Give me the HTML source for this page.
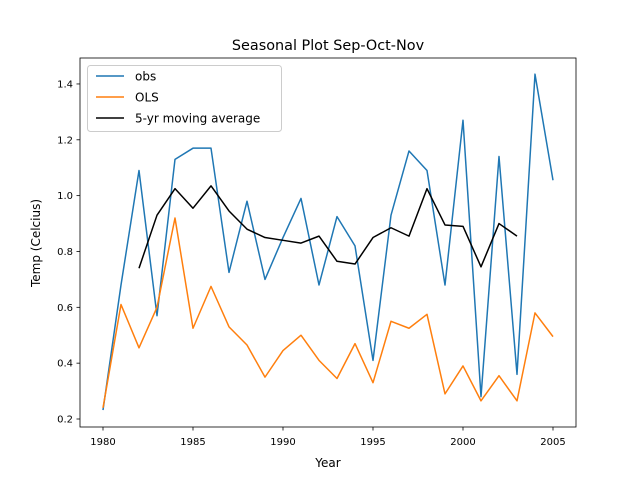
<!DOCTYPE html>
<html><head><meta charset="utf-8"><style>
body{margin:0;background:#fff}
svg{display:block;font-family:"DejaVu Sans","Liberation Sans",sans-serif}
</style></head><body>
<svg id="chart" width="640" height="480">
<rect width="640" height="480" fill="#fff"/>
<text x="328" y="50" text-anchor="middle" font-size="14.4">Seasonal Plot Sep-Oct-Nov</text>
<g id="plot"></g>
<text x="328" y="467" text-anchor="middle" font-size="12">Year</text>
<text transform="translate(40,243) rotate(-90)" text-anchor="middle" font-size="12">Temp (Celcius)</text>
<g>
<rect x="87.5" y="65.5" width="194" height="66" fill="#fff" fill-opacity="0.8" stroke="#ccc" rx="3"/>
<line x1="96" y1="76" x2="124" y2="76" stroke="#1f77b4" stroke-width="1.5"/>
<text x="135" y="80.5" font-size="12">obs</text>
<line x1="96" y1="97" x2="124" y2="97" stroke="#ff7f0e" stroke-width="1.5"/>
<text x="135" y="101.5" font-size="12">OLS</text>
<line x1="96" y1="118" x2="124" y2="118" stroke="#000" stroke-width="1.5"/>
<text x="135" y="122.5" font-size="12">5-yr moving average</text>
</g>
</svg>
<script>
const years=[1980,1981,1982,1983,1984,1985,1986,1987,1988,1989,1990,1991,1992,1993,1994,1995,1996,1997,1998,1999,2000,2001,2002,2003,2004,2005];
const obs=[0.232,0.68,1.09,0.57,1.13,1.17,1.17,0.725,0.98,0.70,0.85,0.99,0.68,0.925,0.82,0.41,0.93,1.16,1.09,0.68,1.27,0.28,1.14,0.36,1.435,1.055];
const ols=[0.24,0.61,0.455,0.60,0.92,0.525,0.675,0.53,0.465,0.35,0.445,0.50,0.41,0.345,0.47,0.33,0.55,0.525,0.575,0.29,0.39,0.265,0.355,0.265,0.58,0.495];
const maYears=[1982,1983,1984,1985,1986,1987,1988,1989,1990,1991,1992,1993,1994,1995,1996,1997,1998,1999,2000,2001,2002,2003];
const ma=[0.74,0.93,1.025,0.955,1.035,0.945,0.88,0.85,0.84,0.83,0.855,0.765,0.755,0.85,0.885,0.855,1.025,0.895,0.89,0.745,0.9,0.855];
const xTicks=[1980,1985,1990,1995,2000,2005];
const yTicks=[0.2,0.4,0.6,0.8,1.0,1.2,1.4];
const X=v=>103+(v-1980)*18;
const Y=v=>419-(v-0.2)*279.2;
const NS="http://www.w3.org/2000/svg";
const g=document.getElementById('plot');
function mk(t,a){const e=document.createElementNS(NS,t);for(const k in a)e.setAttribute(k,a[k]);g.appendChild(e);return e;}
function line(xs,ys,c,name){
 const p=mk('polyline',{points:xs.map((x,i)=>X(x)+','+Y(ys[i])).join(' '),fill:'none',stroke:c,'stroke-width':1.5,'stroke-linejoin':'round'});
 
 
}
line(years,obs,'#1f77b4','obs-line');
line(years,ols,'#ff7f0e','ols-line');
line(maYears,ma,'#000','moving-average-line');
const fr=mk('rect',{x:80,y:58,width:496,height:369,fill:'none',stroke:'#000','stroke-width':0.8});


xTicks.forEach(t=>{
 mk('line',{x1:X(t),x2:X(t),y1:427,y2:430.5,stroke:'#000','stroke-width':0.8});
 const tx=mk('text',{x:X(t),y:445,'text-anchor':'middle','font-size':10});
 tx.textContent=t;
 
 
});
yTicks.forEach(t=>{
 mk('line',{x1:76.5,x2:80,y1:Y(t),y2:Y(t),stroke:'#000','stroke-width':0.8});
 const tx=mk('text',{x:73,y:Y(t)+3.5,'text-anchor':'end','font-size':10});
 tx.textContent=t.toFixed(1);
 
 
});
</script>
</body></html>
